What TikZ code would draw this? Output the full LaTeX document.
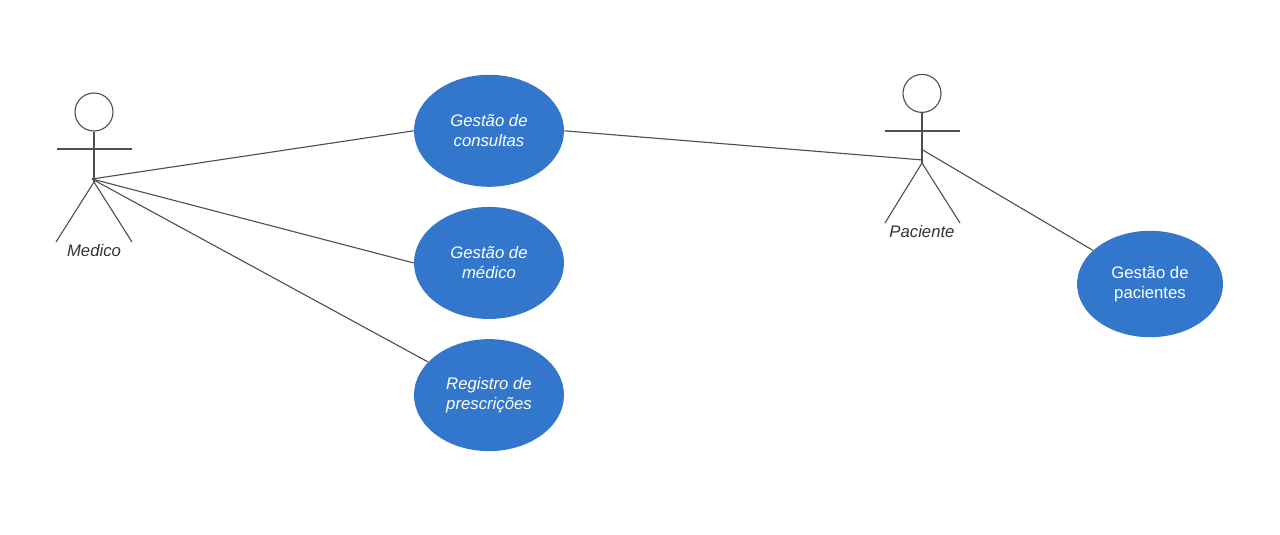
\documentclass[tikz,border=0pt]{standalone}
\usepackage{fontspec}
\setmainfont{Liberation Sans}
\usetikzlibrary{positioning,shapes.geometric}

\begin{document}
\begin{tikzpicture}[auto,node distance=.49cm,
	usecase/.style	={ellipse,fill=caseblue,inner sep=0pt,minimum width=37.5mm,minimum height=28mm,align=center,text=white,font=\fontsize{11.9}{14.2}\selectfont\itshape},
	head/.style	={circle,draw=linegray,line width=.8pt,inner sep=0pt,minimum size=9.5mm},
	actorname/.style	={text=black!80,font=\fontsize{11.9}{14.2}\selectfont\itshape},
	limbs/.style	={draw=linegray,line width=.8pt},
	paths/.style	={draw=linegray,line width=.8pt},
	]
	\definecolor{caseblue}{RGB}{50,119,204}
	\definecolor{linegray}{RGB}{80,80,80}
	\useasboundingbox (0,0) rectangle (32,13.35);
	
	\node [usecase] (GC) at (12.225,10.08) {Gestão de\\ consultas};
	\node [usecase] (GM) [below=of GC] {Gestão de\\ médico};
	\node [usecase] (RP) [below=of GM] {Registro de\\ prescrições};
	\node [usecase,minimum width=36.5mm,minimum height=26.6mm,font=\fontsize{11.9}{14.2}\selectfont] (GP) at (28.75,6.25) {Gestão de\\ pacientes};
	
	% medico
	\node [head] (MH) at (2.35,10.55) {};
	\coordinate (MN) at (2.35,8.8);
	\coordinate (MC) at (2.3,8.875);
	\coordinate (MA) at (1.425,9.625);
	\coordinate (MB) at (3.3,9.625);
	\coordinate (ML) at (1.4,7.3);
	\coordinate (MR) at (3.3,7.3);
	\node [actorname] (Medico) at (2.35,7.075) {Medico};
	\draw [limbs] (MH.south) -- (MN);
	\draw [limbs] (MA) -- (MB);
	\draw [limbs] (ML) -- (MN) -- (MR);
	
	% paciente
	\node [head] (PH) at (23.05,11.015) {};
	\coordinate (PN) at (23.05,9.275);
	\coordinate (PC) at (23.075,9.35);
	\coordinate (PD) at (23.025,9.625);
	\coordinate (PA) at (22.125,10.075);
	\coordinate (PB) at (24,10.075);
	\coordinate (PL) at (22.125,7.775);
	\coordinate (PR) at (24,7.775);
	\node [actorname] (Paciente) at (23.05,7.55) {Paciente};
	\draw [limbs] (PH.south) -- (PN);
	\draw [limbs] (PA) -- (PB);
	\draw [limbs] (PL) -- (PN) -- (PR);
	
	\foreach \uc in {GC, GM}
	\draw [paths] (MC) -- (\uc.west);
	\draw [paths] (MC) -- (RP);
	
	\draw [paths] (GC.east) -- (PC);
	\draw [paths] (PD) -- (GP);
\end{tikzpicture}
\end{document}
